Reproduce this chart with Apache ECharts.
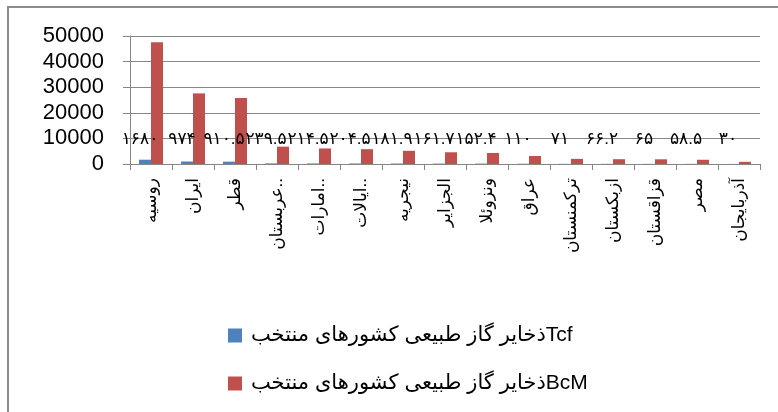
<!DOCTYPE html>
<html>
<head>
<meta charset="utf-8">
<script src="https://cdn.jsdelivr.net/npm/echarts@6/dist/echarts.min.js"></script>
<style>html,body{margin:0;padding:0;background:#fff}#c{width:778px;height:412px}</style>
</head>
<body>
<div id="c"></div>
<script>
var categories = ["روسیه","ایران","قطر","عربستان..","امارات..","ایالات..","نیجریه","الجزایر","ونزوئلا","عراق","ترکمنستان","ازبکستان","قزاقستان","مصر","آذربایجان"];
var tcfValues = [1680, 974, 910.5, 239.5, 214.5, 204.5, 181.9, 161.7, 152.4, 110, 71, 66.2, 65, 58.5, 30];
var tcfLabels = ["۱۶۸۰","۹۷۴","۹۱۰.۵","۲۳۹.۵","۲۱۴.۵","۲۰۴.۵","۱۸۱.۹","۱۶۱.۷","۱۵۲.۴","۱۱۰","۷۱","۶۶.۲","۶۵","۵۸.۵","۳۰"];
var bcmValues = [47572, 27581, 25783, 6782, 6074, 5791, 5151, 4579, 4316, 3115, 2011, 1875, 1841, 1657, 850];
var seriesNames = ["ذخایر گاز طبیعی کشورهای منتخبTcf", "ذخایر گاز طبیعی کشورهای منتخبBcM"];
var yTicks = [0, 10000, 20000, 30000, 40000, 50000];

var FONT = "'Liberation Sans','DejaVu Sans',sans-serif";
var chart = echarts.init(document.getElementById('c'), null, {renderer: 'canvas'});
chart.setOption({
  animation: false,
  backgroundColor: '#fff',
  graphic: [{
    type: 'rect', shape: {x: 8, y: 7, width: 800, height: 420},
    style: {fill: 'none', stroke: '#8c8c8c', lineWidth: 2}, silent: true, z: -1
  }],
  grid: {left: 130, right: 18, top: 36, bottom: 248},
  legend: {
    orient: 'vertical', left: 223, top: 320,
    itemWidth: 14, itemHeight: 14, itemGap: 27, icon: 'rect',
    textStyle: {fontFamily: FONT, fontSize: 21, color: '#000', padding: [0,0,0,4]},
    data: seriesNames
  },
  xAxis: {
    type: 'category', data: categories,
    axisLine: {show: true, lineStyle: {color: '#868686', width: 1}},
    axisTick: {show: true, length: 6, lineStyle: {color: '#868686'}},
    axisLabel: {rotate: 90, margin: 14, interval: 0, fontFamily: FONT, fontSize: 17, color: '#000'}
  },
  yAxis: {
    type: 'value', min: yTicks[0], max: yTicks[yTicks.length-1], interval: 10000,
    axisLine: {show: true, lineStyle: {color: '#868686', width: 1}},
    axisTick: {show: true, length: 7, lineStyle: {color: '#868686'}},
    axisLabel: {margin: 26, fontFamily: FONT, fontSize: 22, color: '#000',
      formatter: function (v) { return String(v); }},
    splitLine: {show: true, lineStyle: {color: '#868686', width: 1}}
  },
  series: [{
    name: seriesNames[0], type: 'bar', data: tcfValues, barWidth: 12, barGap: '0%',
    itemStyle: {color: '#4F81BD'},
    label: {
      show: true, position: 'insideBottom', distance: 0, offset: [-5, -16],
      fontFamily: FONT, fontSize: 17, color: '#000',
      formatter: function (p) { return tcfLabels[p.dataIndex]; }
    }
  }, {
    name: seriesNames[1], type: 'bar', data: bcmValues, barWidth: 12, barGap: '0%',
    itemStyle: {color: '#C0504D'}
  }]
});
</script>
</body>
</html>
